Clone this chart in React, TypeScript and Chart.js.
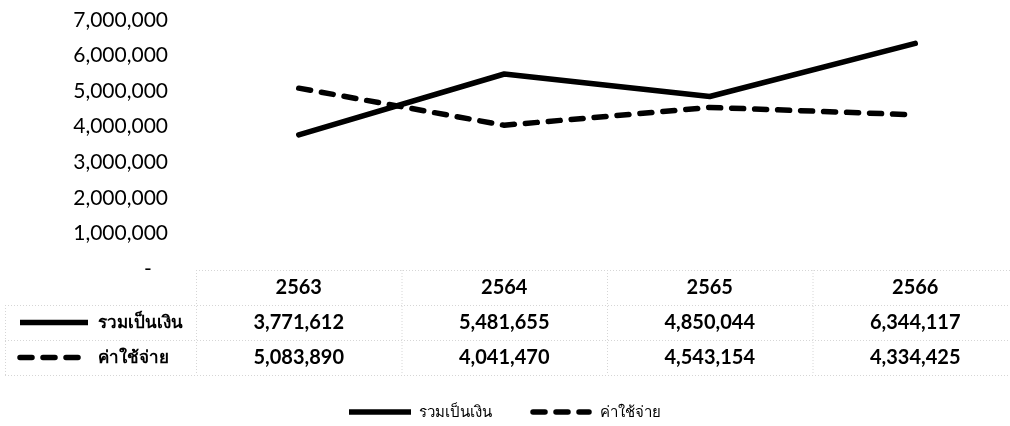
import React, { useEffect, useRef } from "react";
import { Chart, registerables } from "chart.js";

Chart.register(...registerables);

const years = ["2563", "2564", "2565", "2566"];
const seriesNames = ["รวมเป็นเงิน", "ค่าใช้จ่าย"];
const totalValues = [3771612, 5481655, 4850044, 6344117];
const expenseValues = [5083890, 4041470, 4543154, 4334425];
const yMax = 7000000;
const yStep = 1000000;

const FONT = "Lato, 'Noto Sans', 'DejaVu Sans', sans-serif";
const DASH = [12, 11];
const LINE_W = 5.5;

const fmt = (v: number) => v.toLocaleString("en-US");

function drawSwatch(ctx: CanvasRenderingContext2D, x1: number, x2: number, y: number, dashed: boolean) {
  ctx.save();
  ctx.strokeStyle = "#000";
  ctx.lineWidth = LINE_W;
  ctx.lineCap = dashed ? "round" : "butt";
  ctx.setLineDash(dashed ? DASH : []);
  ctx.beginPath();
  ctx.moveTo(x1, y);
  ctx.lineTo(x2, y);
  ctx.stroke();
  ctx.restore();
}

const tablePlugin = {
  id: "dataTable",
  afterDraw(chart: any) {
    const ctx: CanvasRenderingContext2D = chart.ctx;
    const xs = chart.scales.x;
    const area = chart.chartArea;
    const step = xs.getPixelForValue(1) - xs.getPixelForValue(0);
    const colLeft = xs.getPixelForValue(0) - step / 2;
    const colRight = xs.getPixelForValue(years.length - 1) + step / 2;
    const top = area.bottom + 1;
    const rowH = 35;
    const tableLeft = 5;

    ctx.save();
    ctx.strokeStyle = "#d6d6d6";
    ctx.lineWidth = 1;
    ctx.setLineDash([1, 2]);
    const hline = (x1: number, x2: number, y: number) => {
      ctx.beginPath();
      ctx.moveTo(x1, y + 0.5);
      ctx.lineTo(x2, y + 0.5);
      ctx.stroke();
    };
    const vline = (x: number, y1: number, y2: number) => {
      ctx.beginPath();
      ctx.moveTo(x + 0.5, y1);
      ctx.lineTo(x + 0.5, y2);
      ctx.stroke();
    };
    hline(colLeft, colRight, top);
    for (let r = 1; r <= 3; r++) hline(tableLeft, colRight, top + rowH * r);
    vline(tableLeft, top + rowH, top + rowH * 3);
    for (let i = 0; i <= years.length; i++) vline(colLeft + step * i, top, top + rowH * 3);
    ctx.restore();

    ctx.save();
    ctx.fillStyle = "#000";
    ctx.textAlign = "center";
    ctx.textBaseline = "middle";
    ctx.font = `bold 20px ${FONT}`;
    years.forEach((y, i) => {
      ctx.fillText(y, xs.getPixelForValue(i), top + rowH / 2);
    });
    const rows = [totalValues, expenseValues];
    rows.forEach((vals, r) => {
      const cy = top + rowH * (r + 1) + rowH / 2;
      ctx.font = `bold 20px ${FONT}`;
      ctx.textAlign = "center";
      vals.forEach((v, i) => ctx.fillText(fmt(v), xs.getPixelForValue(i), cy));
      drawSwatch(ctx, 20, 88, cy, r === 1);
      ctx.font = `bold 17px ${FONT}`;
      ctx.textAlign = "left";
      ctx.fillText(seriesNames[r], 98, cy);
    });

    ctx.font = `15px ${FONT}`;
    const swW = 62;
    const gapSwText = 8;
    const gapItems = 38;
    const w0 = ctx.measureText(seriesNames[0]).width;
    const w1 = ctx.measureText(seriesNames[1]).width;
    const total = swW + gapSwText + w0 + gapItems + swW + gapSwText + w1;
    let lx = 505 - total / 2;
    const ly = 412;
    drawSwatch(ctx, lx, lx + swW, ly, false);
    lx += swW + gapSwText;
    ctx.fillText(seriesNames[0], lx, ly);
    lx += w0 + gapItems;
    drawSwatch(ctx, lx + 3, lx + swW - 3, ly, true);
    lx += swW + gapSwText;
    ctx.fillText(seriesNames[1], lx, ly);
    ctx.restore();
  },
};

export default function App() {
  const ref = useRef<HTMLCanvasElement | null>(null);
  useEffect(() => {
    document.body.style.margin = "0";
    document.body.style.overflow = "hidden";
    const canvas = ref.current!;
    const chart = new Chart(canvas, {
      type: "line",
      data: {
        labels: years,
        datasets: [
          {
            label: seriesNames[0],
            data: totalValues,
            borderColor: "#000",
            backgroundColor: "#000",
            borderWidth: LINE_W,
            borderCapStyle: "round",
            borderJoinStyle: "round",
            pointRadius: 0,
            tension: 0,
          },
          {
            label: seriesNames[1],
            data: expenseValues,
            borderColor: "#000",
            backgroundColor: "#000",
            borderWidth: LINE_W,
            borderDash: DASH,
            borderCapStyle: "round",
            borderJoinStyle: "round",
            pointRadius: 0,
            tension: 0,
          },
        ],
      },
      options: {
        animation: false,
        responsive: false,
        devicePixelRatio: 1,
        layout: { padding: { top: 20, right: 12, bottom: 157, left: 0 } },
        plugins: { legend: { display: false }, tooltip: { enabled: false } },
        scales: {
          x: { type: "category", offset: true, display: false },
          y: {
            min: 0,
            max: yMax,
            ticks: {
              stepSize: yStep,
              color: "#000",
              padding: 28,
              font: { family: FONT, size: 21 },
              callback: (v: any) => (Number(v) === 0 ? "-   " : fmt(Number(v))),
            },
            grid: { display: false, drawTicks: false },
            border: { display: false },
            afterFit: (s: any) => {
              s.width = 196;
              s.paddingTop = 0;
              s.paddingBottom = 0;
            },
          },
        },
      },
      plugins: [tablePlugin],
    } as any);
    return () => chart.destroy();
  }, []);
  return (
    <div style={{ width: 1010, height: 426, overflow: "hidden", position: "relative", background: "#fff" }}>
      <canvas ref={ref} width={1030} height={426} style={{ display: "block", width: 1030, height: 426 }} />
    </div>
  );
}
